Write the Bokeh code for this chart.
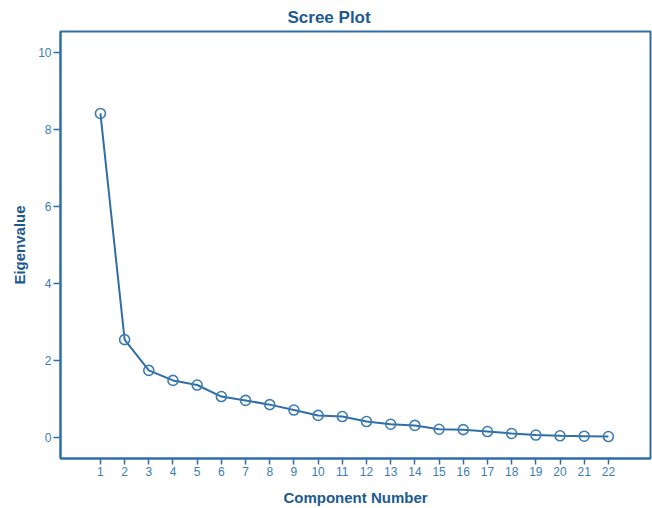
from bokeh.plotting import figure
from bokeh.models import Range1d, FixedTicker
from bokeh.embed import file_html
from bokeh.resources import INLINE

components = list(range(1, 23))
eigenvalues = [8.42, 2.54, 1.74, 1.48, 1.36, 1.06, 0.96, 0.85, 0.71, 0.57, 0.54,
               0.41, 0.34, 0.31, 0.21, 0.20, 0.15, 0.10, 0.06, 0.04, 0.03, 0.02]
y_ticks = [0, 2, 4, 6, 8, 10]

DARK = "#1d5a90"
MID = "#2f6ea6"
LIGHT = "#3d7db3"
FONT = "Liberation Sans"

p = figure(width=652, height=508, output_backend="svg", toolbar_location=None,
           x_range=Range1d(-0.65, 23.74), y_range=Range1d(-0.55, 10.55),
           min_border_left=60, min_border_right=2, min_border_top=23, min_border_bottom=49,
           title="Scree Plot")

p.title.align = "left"
p.title.offset = 227
p.title.standoff = 10
p.title.text_font = FONT
p.title.text_font_size = "17px"
p.title.text_font_style = "bold"
p.title.text_color = DARK

p.outline_line_color = MID
p.outline_line_width = 2
p.outline_line_alpha = 1
p.xgrid.visible = False
p.ygrid.visible = False

p.line(components, eigenvalues, line_color=MID, line_width=2)
p.scatter(components, eigenvalues, marker="circle", size=10, fill_color=None,
          line_color=LIGHT, line_width=1.6)

for ax in (p.xaxis, p.yaxis):
    ax.axis_line_color = MID
    ax.axis_line_width = 2
    ax.major_tick_line_color = MID
    ax.major_tick_line_width = 1.5
    ax.major_tick_out = 6
    ax.major_tick_in = 0
    ax.minor_tick_line_color = None
    ax.major_label_text_font = FONT
    ax.major_label_text_font_size = "12px"
    ax.major_label_text_color = LIGHT
    ax.axis_label_text_font = FONT
    ax.axis_label_text_font_size = "15px"
    ax.axis_label_text_font_style = "bold"
    ax.axis_label_text_color = DARK

p.xaxis.ticker = FixedTicker(ticks=components)
p.yaxis.ticker = FixedTicker(ticks=y_ticks)
p.xaxis.axis_label = "Component Number"
p.yaxis.axis_label = "Eigenvalue"
p.xaxis.major_label_standoff = 2
p.xaxis.axis_label_standoff = 10
p.yaxis.major_tick_out = 7
p.yaxis.major_label_standoff = 2
p.yaxis.axis_label_standoff = 7

open("out.html", "w").write(file_html(p, INLINE))
